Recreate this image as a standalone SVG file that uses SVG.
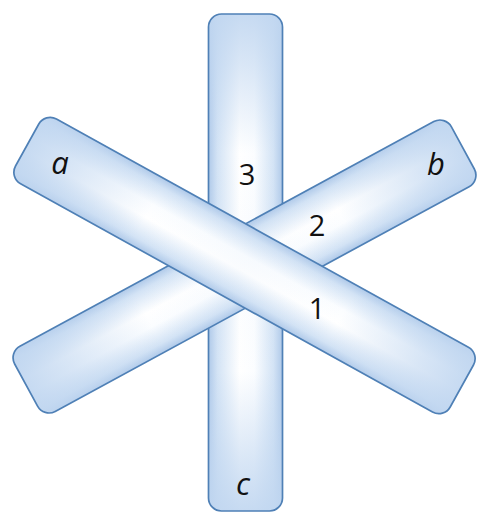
<svg xmlns="http://www.w3.org/2000/svg" width="479" height="520" viewBox="0 0 479 520">
  <defs>
    <linearGradient id="across" x1="0" y1="0" x2="1" y2="0">
      <stop offset="0" stop-color="#afc9e9"/>
      <stop offset="0.12" stop-color="#d3e3f5"/>
      <stop offset="0.42" stop-color="#ffffff"/>
      <stop offset="0.62" stop-color="#fbfdff"/>
      <stop offset="0.88" stop-color="#d3e3f5"/>
      <stop offset="1" stop-color="#afc9e9"/>
    </linearGradient>
    <linearGradient id="along" x1="0" y1="0" x2="0" y2="1">
      <stop offset="0" stop-color="#c0d6f0" stop-opacity="0.9"/>
      <stop offset="0.1" stop-color="#c0d6f0" stop-opacity="0.6"/>
      <stop offset="0.28" stop-color="#c0d6f0" stop-opacity="0"/>
      <stop offset="0.5" stop-color="#c0d6f0" stop-opacity="0.08"/>
      <stop offset="0.72" stop-color="#c0d6f0" stop-opacity="0"/>
      <stop offset="0.9" stop-color="#c0d6f0" stop-opacity="0.6"/>
      <stop offset="1" stop-color="#c0d6f0" stop-opacity="0.9"/>
    </linearGradient>
  </defs>
  <style>
    .fill { fill: url(#across); }
    .shade { fill: url(#along); }
    .edge { fill: none; stroke: #4f80b6; stroke-width: 1.7; }
    .lbl { font-family: "Open Sans", "Liberation Sans", sans-serif; font-size: 31px; font-style: italic; fill: #111; text-anchor: middle; }
    .num { font-family: "Open Sans", "Liberation Sans", sans-serif; font-size: 29px; fill: #111; text-anchor: middle; }
  </style>
  <g id="bar-c" transform="translate(245.5,262.5)">
    <rect class="fill" x="-37" y="-248.5" width="74" height="497" rx="13"/>
    <rect class="shade" x="-37" y="-248.5" width="74" height="497" rx="13"/>
    <rect class="edge" x="-37" y="-248.5" width="74" height="497" rx="13"/>
  </g>
  <g id="bar-b" transform="translate(244.5,266.5) rotate(61.5)">
    <rect class="fill" x="-37" y="-248.5" width="74" height="497" rx="13"/>
    <rect class="shade" x="-37" y="-248.5" width="74" height="497" rx="13"/>
    <rect class="edge" x="-37" y="-248.5" width="74" height="497" rx="13"/>
  </g>
  <g id="bar-a" transform="translate(244.5,265.5) rotate(-61)">
    <rect class="fill" x="-37" y="-248.5" width="74" height="497" rx="13"/>
    <rect class="shade" x="-37" y="-248.5" width="74" height="497" rx="13"/>
    <rect class="edge" x="-37" y="-248.5" width="74" height="497" rx="13"/>
  </g>
  <g id="labels">
    <text class="lbl" x="60" y="174">a</text>
    <text class="lbl" x="436" y="175">b</text>
    <text class="lbl" x="243" y="495">c</text>
  </g>
  <g id="crossings">
    <text class="num" x="247" y="185">3</text>
    <text class="num" x="317" y="236">2</text>
    <text class="num" x="317" y="319">1</text>
  </g>
  <g id="connectors"/>
</svg>
